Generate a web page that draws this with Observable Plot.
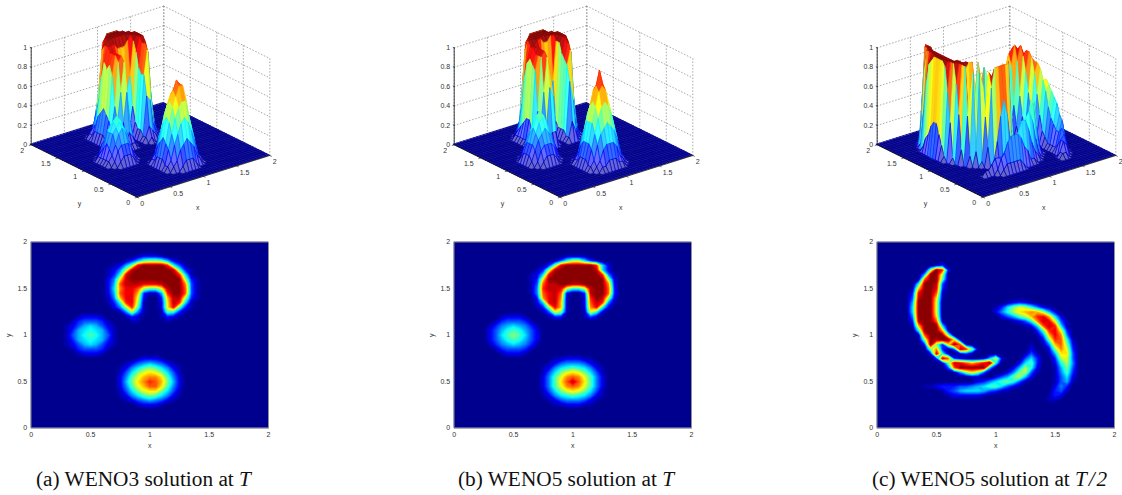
<!DOCTYPE html>
<html><head><meta charset="utf-8">
<script src="https://cdn.jsdelivr.net/npm/d3@7"></script>
<script src="https://cdn.jsdelivr.net/npm/@observablehq/plot@0.6"></script>
<style>
html,body{margin:0;padding:0;background:#fff}
#page{position:relative;width:1122px;height:495px;overflow:hidden}
#page svg{position:absolute;font-family:"Liberation Sans",sans-serif;background:transparent;overflow:visible}
.cap{position:absolute;top:467px;font:21.3px "Liberation Serif",serif;color:#111;white-space:pre}
.cap i{font-style:italic}
</style></head><body><div id="page"></div>
<script>
// Solution height on a 41x41 grid (x = i*0.05, y = 2 - j*0.05).
// Each row: "startColumn:levels", levels are base-36 digits in twentieths (k = 1.0).
const wenoT3 = ["","","","18:12221","16:1369aa9621","14:126aikkkkh841","13:125bjkkkkkkj931","13:138ikkkkkkkkh71",
"13:25djkkkkkkkkkb31","13:26gjjjiiijkkkf41","13:27fiigb99cjkkg41","13:26giie3116hkkg41","13:15eiic2003ejjb31",
"13:138hib1002djh71","14:25bh91002di931","15:15b510019831","8:12221 16:132 22:1321","7:1344431 17:11 23:1",
"6:124676421","6:136787631","6:146898641","6:136787631","6:124676421","7:1344431","8:12221","18:12221","16:124565421",
"15:12579a97521","15:147acdca741","15:259ceffd952","15:26adfhgea62","15:259ceggd952","15:147acdda741","15:12579a97521",
"16:124565421","18:12221","","","","",""];
const wenoT5 = ["","","","19:1111","17:148bb731","15:13aikkkkkh72","14:13bjkkkkkkj72","13:127ikkkkkkkkh51",
"13:13dkkkkkkkkkkb2","13:14gjjkkjjkkkkf2","13:15hjjib88bjkkg3","13:15gijg2003jkkg3","14:3fijf1002hkjb2",
"14:27ije1002gjh51","14:13bie1002fi82","15:14ca1001c82","8:12221 16:133 22:142","7:1344431","6:135676531",
"6:246898642","6:2479a9742","6:246898642","6:135676531","7:1344431","8:12221","17:1122211","16:124555421",
"15:12578987521","15:147acdca741","15:259cfgfc952","15:259dgjgd952","15:259cfgfc952","15:147acdca741",
"15:12578987521","16:124555421","17:1122211","","","","",""];
const wenoHalfT5 = ["","","","","","10:13","9:akh2","8:6kkb","7:1gkk9","7:8kkj4","6:1ekki3","6:3ikkg1","6:4jkkd1",
"6:6kkkc 22:12321","6:7kkkc 20:137acb8521","6:7kkkc 20:258bdefeb62","6:5kkkd 21:2469behie72","6:3jkkg1 23:1248fjic41",
"6:1ekkk7 25:127gjh71","7:8kkke1 27:39hic3","7:1gkkka 27:15eif5","8:akjkkd1 28:2ahg81","8:3ka3dkg1 26:1 28:15ega2",
"9:af304jha1 26:2 29:2afc3","9:2j810131 25:141 29:16dd4","10:3jg3100016c2 25:473 30:3bc4","11:1ajigegik8 24:2793 30:28b5",
"12:4gkkkkk6 23:26b82 30:16a4","13:15ada4 22:25ab41 30:1593","16:11 20:246ab62 30:1472","17:23579a841 30:1461",
"8:11233344567997421 30:253","11:134677764311 30:341","12:1222221 29:132","29:11","","","","","",""];
const captions = [["(a) WENO3 solution at ","T"],["(b) WENO5 solution at ","T"],["(c) WENO5 solution at ","T\u200a/\u200a2"]];
const captionX = [36,458,872];
const planarTicks = [0,0.5,1,1.5,2];
const zTicks = [0,0.2,0.4,0.6,0.8,1];
const panelShift = [0,422.6,846];
const jetDomain = [0,0.111,0.365,0.619,0.873,1];
const jetRange = ["#00008f","#0000ff","#00ffff","#ffff00","#ff0000","#800000"];
const N = 41;

const page = document.getElementById("page");
const jet = {type:"linear",domain:jetDomain,range:jetRange,clamp:true};
const jetOf = d3.scaleLinear().domain(jetDomain).range(jetRange).clamp(true);
const TEXT = "#333";
const fmt = d => String(d);

function decode(rows){
  const g = new Float64Array(N*N);
  rows.forEach((row,j)=>{
    if(!row) return;
    row.split(" ").forEach(seg=>{
      const [s,lv]=seg.split(":");
      [...lv].forEach((c,k)=>{g[j*N+(+s)+k]=parseInt(c,36)/20;});
    });
  });
  return g;
}
// oblique view of the box: u to the right, v upward, in chart units
const project = (x,y,z)=>({u:x/2*132.6-y/2*106, v:x/2*41.7+y/2*52.4+z*97});
// mesh faces show as the edge colour paled toward white, most at the foot of a hill
const faceColor = m => d3.rgb(d3.interpolateRgb(jetOf(m),"#fff")(m<0.15?0.4:m<0.4?0.22:0.08)).formatHex();

function surface(grid){
  const flat=[],hill=[];
  let id=0;
  for(let j=0;j<N-1;j++) for(let i=N-2;i>=0;i--){
    const at=(a,b)=>grid[b*N+a];
    const zs=[at(i,j),at(i+1,j),at(i,j+1),at(i+1,j+1)];
    const P=(a,b)=>project(a*0.05,2-b*0.05,at(a,b));
    const p00=P(i,j),p10=P(i+1,j),p01=P(i,j+1),p11=P(i+1,j+1);
    const mean=d3.mean(zs);
    const out=d3.max(zs)===0?flat:hill;
    const face=faceColor(mean);
    id++;
    out.push({id,x1:p00.u,y1:p00.v,x2:p10.u,y2:p10.v,mean,face});
    out.push({id,x1:p01.u,y1:p01.v,x2:p11.u,y2:p11.v,mean,face});
  }
  return {flat,hill};
}

function wireBox(){
  const lines=[];let n=0;
  const seg=(a,b)=>{n++;lines.push({n,...project(...a)},{n,...project(...b)});};
  zTicks.forEach(z=>{seg([0,2,z],[2,2,z]);seg([2,2,z],[2,0,z]);});
  planarTicks.forEach(t=>{seg([t,2,0],[t,2,1]);seg([2,t,0],[2,t,1]);});
  return lines;
}
function tickSegs(){
  const s=[];let n=0;
  const seg=(a,b)=>{n++;s.push({n,...project(...a)},{n,...project(...b)});};
  planarTicks.forEach(t=>{seg([t,0,0],[t,-0.03,0]);seg([0,t,0],[-0.03,t,0]);});
  zTicks.forEach(t=>seg([0,2,t],[0,2.02,t]));
  return s;
}
const label3=(items,opts)=>Plot.text(items,{x:"u",y:"v",text:"t",fontSize:7,fill:TEXT,...opts});

function draw3D(grid,k){
  const {flat,hill}=surface(grid);
  const common={x1:"x1",y1:"y1",x2:"x2",y2:"y2",z:"id"};
  const xLab=planarTicks.map(t=>({...project(t,0,0),t:fmt(t)}));
  const yLab=planarTicks.map(t=>({...project(0,t,0),t:fmt(t)}));
  const zLab=zTicks.map(t=>({...project(0,2,t),t:fmt(t)}));
  const p=Plot.plot({
    width:290,height:215,margin:0,
    x:{domain:[-136.7,153.3],range:[0,290],axis:null},
    y:{domain:[196.7-215,196.7],range:[215,0],axis:null},
    color:jet,
    marks:[
      Plot.line(wireBox(),{x:"u",y:"v",z:"n",stroke:"#888",strokeWidth:0.7,strokeDasharray:"0.8,2.4"}),
      Plot.area(flat,{...common,fill:"#14148f",stroke:"mean",strokeWidth:0.8}),
      Plot.area(hill,{...common,fill:"face",stroke:"mean",strokeWidth:0.7}),
      Plot.line([project(0,2,1),project(0,2,0),project(0,0,0),project(2,0,0)],{x:"u",y:"v",stroke:"#111",strokeWidth:0.8}),
      Plot.line(tickSegs(),{x:"u",y:"v",z:"n",stroke:"#111",strokeWidth:0.6}),
      label3(xLab,{textAnchor:"start",dx:3,dy:6.5}),
      label3(yLab,{textAnchor:"end",dx:-7,dy:6}),
      label3(zLab,{textAnchor:"end",dx:-4,dy:0}),
      label3([{...project(1,0,0),t:"x"}],{dx:-5.7,dy:31}),
      label3([{...project(0,1,0),t:"y"}],{dx:-4.7,dy:33})
    ]
  });
  p.style.left=panelShift[k]+"px";p.style.top="0px";
  page.appendChild(p);
}

function drawMap(grid,k){
  const p=Plot.plot({
    width:290,height:235,
    marginLeft:30.7,marginRight:290-268,marginTop:241.7-230,marginBottom:235-197.7,
    x:{domain:[0,2]},y:{domain:[0,2]},
    color:jet,
    marks:[
      Plot.rect([0],{x1:0,x2:2,y1:0,y2:2,fill:"#00008f"}),
      Plot.contour(Array.from(grid),{fill:Plot.identity,width:N,height:N,x1:-0.025,x2:2.025,y1:2.025,y2:-0.025,
        thresholds:d3.range(0.01,1.001,0.02),clip:true}),
      Plot.frame({stroke:"#777",strokeWidth:0.8}),
      Plot.axisX({ticks:planarTicks,tickFormat:fmt,tickSize:0,tickPadding:4,fontSize:7,color:TEXT,label:"x",labelAnchor:"center",labelArrow:"none",labelOffset:20}),
      Plot.axisY({ticks:planarTicks,tickFormat:fmt,tickSize:0,tickPadding:4,fontSize:7,color:TEXT,label:"y",labelAnchor:"center",labelArrow:"none",labelOffset:25})
    ]
  });
  p.style.left=panelShift[k]+"px";p.style.top="230px";
  page.appendChild(p);
}

[wenoT3,wenoT5,wenoHalfT5].map(decode).forEach((g,k)=>{draw3D(g,k);drawMap(g,k);});
captions.forEach(([a,b],k)=>{
  const d=document.createElement("div");d.className="cap";d.style.left=captionX[k]+"px";
  d.textContent=a;const it=document.createElement("i");it.textContent=b;d.appendChild(it);page.appendChild(d);
});
</script></body></html>
